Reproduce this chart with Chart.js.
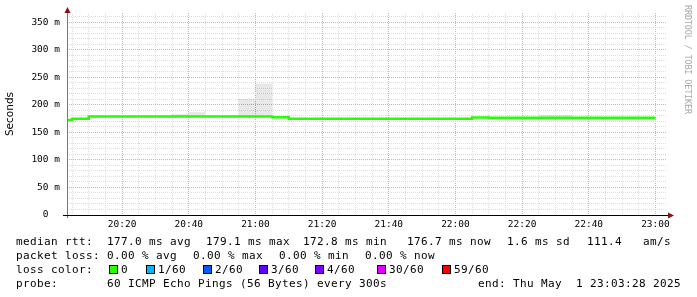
<!DOCTYPE html>
<html>
<head>
<meta charset="utf-8">
<script src="https://cdn.jsdelivr.net/npm/chart.js@4.4.0/dist/chart.umd.min.js"></script>
<style>
  html, body { margin: 0; padding: 0; background: #fff; }
  #wrap { position: relative; width: 697px; height: 297px; }
</style>
</head>
<body>
<div id="wrap"><canvas id="pingChart"></canvas></div>
<script>
// graph window
const windowStart = '20:03:28';
const windowEnd = '23:03:28';

// start of each 5 min bucket (last entry closes the final step)
const sampleTimes = [
  '20:03:28', '20:05', '20:10', '20:15', '20:20', '20:25', '20:30', '20:35', '20:40', '20:45',
  '20:50', '20:55', '21:00', '21:05', '21:10', '21:15', '21:20', '21:25', '21:30', '21:35',
  '21:40', '21:45', '21:50', '21:55', '22:00', '22:05', '22:10', '22:15', '22:20', '22:25',
  '22:30', '22:35', '22:40', '22:45', '22:50', '22:55', '23:00'
];

// median rtt in ms
const medianRtt = [
  172.8, 175.0, 179.1, 179.1, 179.1, 179.1, 179.1, 179.1, 179.1, 179.1,
  179.1, 179.1, 179.1, 177.6, 174.8, 174.8, 174.8, 174.8, 174.8, 174.8,
  174.8, 174.8, 174.8, 174.8, 174.8, 177.2, 176.7, 176.7, 176.7, 176.7,
  176.7, 176.7, 176.7, 176.7, 176.7, 176.7, 176.7
];

// upper edge of the smoke (ping spread) in ms
const smokeTop = [
  172.8, 175.0, 179.1, 179.1, 179.1, 179.1, 179.1, 183.5, 187.0, 179.1,
  179.1, 211.0, 239.0, 177.6, 174.8, 174.8, 174.8, 174.8, 174.8, 174.8,
  174.8, 174.8, 174.8, 174.8, 174.8, 177.2, 176.7, 176.7, 176.7, 181.6,
  181.6, 176.7, 176.7, 176.7, 176.7, 176.7, 176.7
];

const xTickLabels = ['20:20', '20:40', '21:00', '21:20', '21:40', '22:00', '22:20', '22:40', '23:00'];
const yTickLabels = ['0  ', '50 m', '100 m', '150 m', '200 m', '250 m', '300 m', '350 m'];
const yTickValues = [0, 50, 100, 150, 200, 250, 300, 350];

const lossColors = ['#26ff00', '#00b8ff', '#0059ff', '#5e00ff', '#7e00ff', '#dd00ff', '#ff0000'];
const lossLabels = ['0', '1/60', '2/60', '3/60', '4/60', '30/60', '59/60'];

const rttStats = ['177.0 ms avg', '179.1 ms max', '172.8 ms min', '176.7 ms now', '1.6 ms sd', '111.4   am/s'];
const lossStats = ['0.00 % avg', '0.00 % max', '0.00 % min', '0.00 % now'];
const probeText = '60 ICMP Echo Pings (56 Bytes) every 300s';
const endText = 'end: Thu May  1 23:03:28 2025';

// minutes after 20:00
const toMin = s => {
  const [h, m, sec] = s.split(':').map(Number);
  return (h - 20) * 60 + m + (sec || 0) / 60;
};
const toPoints = vals => sampleTimes.map((t, i) => ({ x: toMin(t), y: vals[i] }));

const MONO = "'DejaVu Sans Mono', monospace";
const minorGrid = '#dedede';
const majorGrid = '#e6a8a8';

// draw a monospaced string on a fixed cell width
function monoText(ctx, str, x, y, cw) {
  for (let i = 0; i < str.length; i++) ctx.fillText(str[i], x + i * cw, y);
}

const rrdDecor = {
  id: 'rrdDecor',
  afterDraw(chart) {
    const { ctx, chartArea: a } = chart;
    ctx.save();

    // axes
    ctx.lineWidth = 1;
    ctx.strokeStyle = '#777';
    ctx.beginPath();
    ctx.moveTo(a.left + 0.5, a.bottom + 3);
    ctx.lineTo(a.left + 0.5, a.top - 4);
    ctx.stroke();
    ctx.strokeStyle = '#000';
    ctx.beginPath();
    ctx.moveTo(a.left - 4, a.bottom + 0.5);
    ctx.lineTo(a.right + 2, a.bottom + 0.5);
    ctx.stroke();

    // arrow heads
    ctx.fillStyle = '#8b1010';
    ctx.beginPath();
    ctx.moveTo(a.left + 0.5, a.top - 6);
    ctx.lineTo(a.left - 2.5, a.top);
    ctx.lineTo(a.left + 3.5, a.top);
    ctx.closePath();
    ctx.fill();
    ctx.beginPath();
    ctx.moveTo(a.right + 7, a.bottom + 0.5);
    ctx.lineTo(a.right + 1, a.bottom - 2.5);
    ctx.lineTo(a.right + 1, a.bottom + 3.5);
    ctx.closePath();
    ctx.fill();

    // unit label
    ctx.fillStyle = '#000';
    ctx.font = "10.5px 'DejaVu Sans', sans-serif";
    ctx.textAlign = 'center';
    ctx.textBaseline = 'middle';
    ctx.save();
    ctx.translate(10, (a.top + a.bottom) / 2);
    ctx.rotate(-Math.PI / 2);
    ctx.fillText('Seconds', 0, 0);
    ctx.restore();

    // watermark
    ctx.save();
    ctx.fillStyle = '#a8a8a8';
    ctx.font = '8.5px ' + MONO;
    ctx.textAlign = 'left';
    ctx.textBaseline = 'middle';
    ctx.translate(687, 5);
    ctx.rotate(Math.PI / 2);
    monoText(ctx, 'RRDTOOL / TOBI OETIKER', 0, 0, 4.95);
    ctx.restore();

    // legend lines
    const cw = 7.0;
    ctx.fillStyle = '#000';
    ctx.font = '11px ' + MONO;
    ctx.textAlign = 'left';
    ctx.textBaseline = 'alphabetic';

    monoText(ctx, 'median rtt:', 16, 245, cw);
    [107, 206, 303, 407, 507, 587].forEach((x, i) => monoText(ctx, rttStats[i], x, 245, cw));

    monoText(ctx, 'packet loss:', 16, 259, cw);
    [107, 193, 279, 365].forEach((x, i) => monoText(ctx, lossStats[i], x, 259, cw));

    monoText(ctx, 'loss color:', 16, 273, cw);
    [109, 146, 203, 259, 315, 377, 442].forEach((x, i) => {
      ctx.fillStyle = lossColors[i];
      ctx.fillRect(x, 265, 8, 8);
      ctx.strokeStyle = '#000';
      ctx.strokeRect(x + 0.5, 265.5, 8, 8);
      ctx.fillStyle = '#000';
      monoText(ctx, lossLabels[i], x + 12, 273, cw);
    });

    monoText(ctx, 'probe:', 16, 287, cw);
    monoText(ctx, probeText, 107, 287, cw);
    monoText(ctx, endText, 478, 287, cw);

    ctx.restore();
  }
};

const xMajor = xTickLabels.map(toMin);

new Chart(document.getElementById('pingChart'), {
  type: 'line',
  data: {
    datasets: [
      {
        label: 'median rtt',
        data: toPoints(medianRtt),
        borderColor: '#26ff00',
        borderWidth: 2.5,
        stepped: true,
        pointRadius: 0,
        fill: false
      },
      {
        label: 'smoke',
        data: toPoints(smokeTop),
        borderColor: 'rgba(0,0,0,0)',
        borderWidth: 0,
        backgroundColor: 'rgba(0,0,0,0.09)',
        stepped: true,
        pointRadius: 0,
        fill: 0
      }
    ]
  },
  options: {
    responsive: true,
    maintainAspectRatio: false,
    animation: false,
    events: [],
    layout: { padding: { top: 13, right: 30, left: 0, bottom: 0 } },
    plugins: {
      legend: { display: false },
      tooltip: { enabled: false }
    },
    scales: {
      x: {
        type: 'linear',
        min: toMin(windowStart),
        max: toMin(windowEnd),
        afterBuildTicks: scale => {
          const ticks = [];
          for (let m = 5; m <= 180; m += 5) ticks.push({ value: m });
          scale.ticks = ticks;
        },
        afterFit: scale => { scale.height = 82; },
        ticks: {
          autoSkip: false,
          maxRotation: 0,
          padding: 4,
          color: '#000',
          font: { family: MONO, size: 9.5 },
          callback: v => {
            const i = xMajor.indexOf(v);
            return i >= 0 ? xTickLabels[i] : '';
          }
        },
        grid: {
          drawTicks: false,
          lineWidth: 1,
          color: c => (c.tick && xMajor.includes(c.tick.value)) ? majorGrid : minorGrid
        },
        border: { display: false, dash: [1, 1] }
      },
      y: {
        min: 0,
        max: 367,
        afterBuildTicks: scale => {
          const ticks = [];
          for (let v = 0; v <= 360; v += 10) ticks.push({ value: v });
          scale.ticks = ticks;
        },
        afterFit: scale => { scale.width = 67; },
        ticks: {
          autoSkip: false,
          padding: 7,
          color: '#000',
          font: { family: MONO, size: 9.5 },
          callback: v => {
            const i = yTickValues.indexOf(v);
            return i >= 0 ? yTickLabels[i] : '';
          }
        },
        grid: {
          drawTicks: false,
          lineWidth: 1,
          color: c => (c.tick && yTickValues.includes(c.tick.value)) ? majorGrid : minorGrid
        },
        border: { display: false, dash: [1, 1] }
      }
    }
  },
  plugins: [rrdDecor]
});
</script>
</body>
</html>
